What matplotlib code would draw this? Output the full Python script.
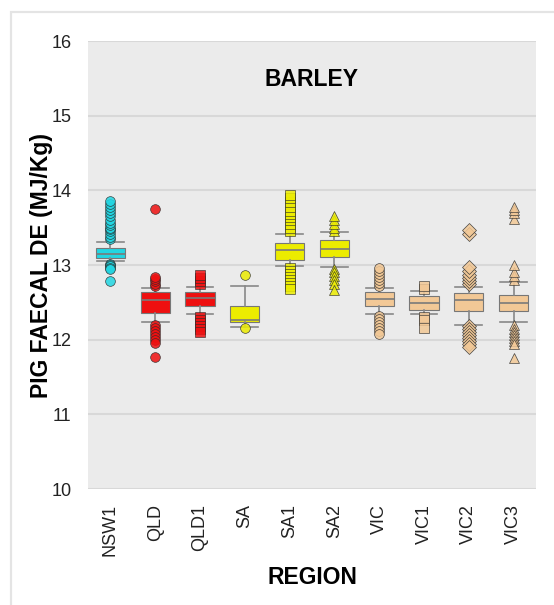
import numpy as np
import matplotlib
matplotlib.use("Agg")
import matplotlib.pyplot as plt
from matplotlib.patches import Rectangle

plt.rcParams['font.family'] = ['Liberation Sans', 'DejaVu Sans']

# ---------------- data ----------------
REGIONS = ["NSW1", "QLD", "QLD1", "SA", "SA1", "SA2", "VIC", "VIC1", "VIC2", "VIC3"]

Q1 = [13.09, 12.36, 12.45, 12.23, 13.07, 13.11, 12.45, 12.40, 12.38, 12.38]
MED = [13.15, 12.53, 12.56, 12.27, 13.20, 13.22, 12.54, 12.49, 12.53, 12.49]
Q3 = [13.23, 12.64, 12.64, 12.45, 13.30, 13.33, 12.64, 12.59, 12.63, 12.60]
WHIS_LO = [13.05, 12.23, 12.34, 12.17, 12.99, 12.97, 12.34, 12.35, 12.20, 12.23]
WHIS_HI = [13.31, 12.69, 12.71, 12.72, 13.42, 13.44, 12.69, 12.65, 12.71, 12.77]

OUTLIERS = [
    [13.35, 13.38, 13.42, 13.45, 13.48, 13.50, 13.53, 13.56, 13.60, 13.65,
     13.70, 13.74, 13.78, 13.82, 13.86, 13.02, 13.00, 12.98, 12.96, 12.94, 12.78],
    [12.72, 12.75, 12.78, 12.81, 12.84, 13.75,
     12.20, 12.16, 12.12, 12.08, 12.04, 12.00, 11.96, 11.77],
    [12.74, 12.78, 12.82, 12.86, 12.30, 12.26, 12.22, 12.18, 12.14, 12.10],
    [12.87, 12.15],
    [13.45, 13.50, 13.55, 13.60, 13.64, 13.68, 13.72, 13.78, 13.84, 13.90, 13.94,
     12.96, 12.92, 12.88, 12.84, 12.80, 12.76, 12.72, 12.68],
    [13.46, 13.50, 13.55, 13.60, 13.66, 12.95, 12.90, 12.85, 12.80, 12.74, 12.66],
    [12.72, 12.76, 12.80, 12.84, 12.88, 12.92, 12.96,
     12.32, 12.28, 12.24, 12.20, 12.16, 12.12, 12.08],
    [12.68, 12.72, 12.30, 12.26, 12.16],
    [12.74, 12.78, 12.82, 12.86, 12.92, 12.97, 13.42, 13.47,
     12.18, 12.14, 12.10, 12.06, 12.02, 11.98, 11.94, 11.90],
    [12.80, 12.85, 12.90, 13.00, 13.62, 13.70, 13.74, 13.78,
     12.20, 12.14, 12.10, 12.06, 12.02, 11.98, 11.94, 11.76],
]

COLORS = ["#22d6e2", "#ee1010", "#ee1010", "#ecec00", "#ecec00", "#ecec00",
          "#f2c896", "#f2c896", "#f2c896", "#f2c896"]
MARKERS = ["o", "o", "s", "o", "s", "^", "o", "s", "D", "^"]


def main():
    fig = plt.figure(figsize=(5.54, 6.05), dpi=100)
    ax = fig.add_axes([88 / 554, 1 - 489 / 605, 448 / 554, 448 / 605])

    # outer panel frame (only top and left edges fall inside the image)
    top = 1 - 12 / 605
    fig.add_artist(Rectangle((11 / 554, -0.2), 1.5, top + 0.2,
                             transform=fig.transFigure, fill=False,
                             edgecolor="#e4e4e4", linewidth=1.6))

    ax.set_facecolor("#ebebeb")
    for s in ax.spines.values():
        s.set_visible(False)

    positions = np.arange(len(REGIONS))
    for i in range(len(REGIONS)):
        stats = [{
            "med": MED[i], "q1": Q1[i], "q3": Q3[i],
            "whislo": WHIS_LO[i], "whishi": WHIS_HI[i],
            "fliers": OUTLIERS[i], "label": REGIONS[i],
        }]
        ax.bxp(
            stats, positions=[positions[i]], widths=0.65, capwidths=0.6,
            patch_artist=True, manage_ticks=False,
            boxprops=dict(facecolor=COLORS[i], edgecolor="#777777", linewidth=0.8),
            medianprops=dict(color="#7a7a7a", linewidth=1.2),
            whiskerprops=dict(color="#888888", linewidth=1.2),
            capprops=dict(color="#888888", linewidth=1.2),
            flierprops=dict(marker=MARKERS[i], markerfacecolor=COLORS[i],
                            markeredgecolor="#2a2a2a", markeredgewidth=0.5,
                            markersize=7, alpha=0.85),
            zorder=3,
        )

    ax.set_xlim(-0.5, len(REGIONS) - 0.5)
    ax.set_ylim(10, 16)
    ax.set_yticks(np.arange(10, 17, 1))
    ax.set_xticks(positions)
    ax.set_xticklabels(REGIONS, rotation=90)
    ax.tick_params(axis="both", length=0, labelsize=13, labelcolor="#222222")
    ax.tick_params(axis="x", pad=11)
    ax.tick_params(axis="y", pad=12)
    ax.yaxis.grid(True, color="#d8d8d8", linewidth=1.5)
    ax.set_axisbelow(True)

    ax.text(0.5, 0.915, "BARLEY", transform=ax.transAxes, ha="center",
            va="center", fontsize=16.5, fontweight="bold")
    ax.set_xlabel("REGION", fontsize=16.5, fontweight="bold", labelpad=7)
    ax.set_ylabel("PIG FAECAL DE (MJ/Kg)", fontsize=16.5, fontweight="bold",
                  labelpad=-1)

    fig.savefig("out.png", dpi=100)
    plt.close()


if __name__ == "__main__":
    main()
